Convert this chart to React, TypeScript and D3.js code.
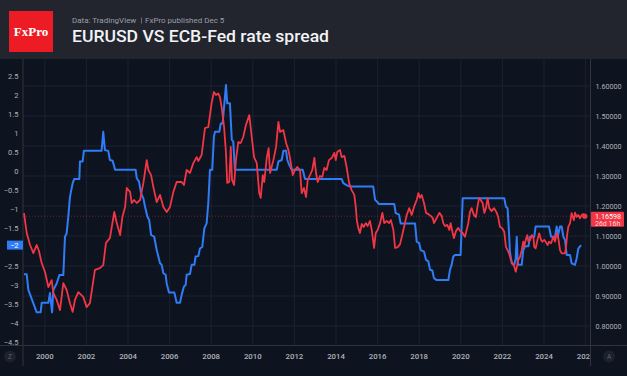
import React from "react";
import * as d3 from "d3";

const W = 627;
const H = 376;

// EURUSD (right axis) : [decimal year, price]
const eurusd: [number, number][] = [
  [1999.0, 1.176], [1999.13, 1.11], [1999.29, 1.07], [1999.45, 1.043], [1999.61, 1.07], [1999.72, 1.05],
  [1999.85, 1.01], [2000.01, 0.98], [2000.17, 0.93], [2000.33, 0.953], [2000.41, 0.91], [2000.57, 0.887],
  [2000.73, 0.853], [2000.89, 0.943], [2001.05, 0.92], [2001.21, 0.876], [2001.34, 0.847], [2001.45, 0.887],
  [2001.61, 0.913], [2001.85, 0.897], [2002.01, 0.863], [2002.17, 0.876], [2002.41, 0.987], [2002.65, 0.993],
  [2002.81, 1.003], [2002.94, 1.077], [2003.13, 1.093], [2003.34, 1.18], [2003.46, 1.143], [2003.62, 1.103],
  [2003.73, 1.163], [2003.86, 1.197], [2003.94, 1.26], [2004.1, 1.247], [2004.18, 1.21], [2004.29, 1.22],
  [2004.42, 1.21], [2004.58, 1.22], [2004.74, 1.277], [2004.9, 1.353], [2004.98, 1.32], [2005.11, 1.303],
  [2005.22, 1.263], [2005.38, 1.213], [2005.54, 1.237], [2005.7, 1.197], [2005.86, 1.18], [2006.02, 1.197],
  [2006.18, 1.247], [2006.34, 1.28], [2006.58, 1.28], [2006.69, 1.27], [2006.82, 1.32], [2006.98, 1.31],
  [2007.14, 1.343], [2007.3, 1.363], [2007.38, 1.35], [2007.54, 1.37], [2007.7, 1.46], [2007.86, 1.463],
  [2008.02, 1.543], [2008.13, 1.58], [2008.23, 1.57], [2008.34, 1.575], [2008.42, 1.563], [2008.5, 1.53],
  [2008.62, 1.463], [2008.71, 1.377], [2008.77, 1.277], [2008.87, 1.28], [2008.94, 1.397], [2009.0, 1.287],
  [2009.1, 1.27], [2009.19, 1.353], [2009.3, 1.413], [2009.42, 1.41], [2009.54, 1.43], [2009.67, 1.47],
  [2009.83, 1.503], [2009.95, 1.43], [2010.06, 1.363], [2010.19, 1.343], [2010.31, 1.243], [2010.38, 1.227],
  [2010.48, 1.303], [2010.55, 1.28], [2010.67, 1.36], [2010.76, 1.393], [2010.83, 1.31], [2010.99, 1.353],
  [2011.12, 1.397], [2011.23, 1.48], [2011.31, 1.447], [2011.47, 1.453], [2011.6, 1.41], [2011.71, 1.387],
  [2011.79, 1.36], [2011.92, 1.303], [2012.03, 1.32], [2012.14, 1.33], [2012.27, 1.32], [2012.35, 1.243],
  [2012.46, 1.26], [2012.56, 1.23], [2012.64, 1.287], [2012.75, 1.303], [2012.86, 1.32], [2012.96, 1.36],
  [2013.04, 1.31], [2013.12, 1.28], [2013.23, 1.3], [2013.34, 1.297], [2013.44, 1.327], [2013.55, 1.32],
  [2013.66, 1.353], [2013.79, 1.36], [2013.92, 1.377], [2013.99, 1.353], [2014.06, 1.38], [2014.19, 1.387],
  [2014.27, 1.363], [2014.4, 1.367], [2014.51, 1.33], [2014.63, 1.277], [2014.75, 1.253], [2014.88, 1.237],
  [2014.95, 1.197], [2015.0, 1.153], [2015.07, 1.127], [2015.15, 1.11], [2015.24, 1.14], [2015.33, 1.13],
  [2015.43, 1.143], [2015.52, 1.133], [2015.63, 1.15], [2015.72, 1.12], [2015.83, 1.06], [2015.91, 1.11],
  [2016.0, 1.12], [2016.12, 1.143], [2016.23, 1.177], [2016.32, 1.143], [2016.44, 1.15], [2016.55, 1.143],
  [2016.64, 1.153], [2016.76, 1.12], [2016.84, 1.06], [2016.97, 1.063], [2017.08, 1.073], [2017.24, 1.12],
  [2017.4, 1.17], [2017.52, 1.193], [2017.64, 1.17], [2017.75, 1.197], [2017.88, 1.22], [2017.96, 1.243],
  [2018.04, 1.227], [2018.12, 1.237], [2018.23, 1.21], [2018.33, 1.177], [2018.44, 1.173], [2018.55, 1.167],
  [2018.65, 1.16], [2018.71, 1.143], [2018.84, 1.16], [2018.97, 1.177], [2019.08, 1.167], [2019.16, 1.143],
  [2019.24, 1.133], [2019.35, 1.137], [2019.45, 1.12], [2019.51, 1.143], [2019.61, 1.11], [2019.67, 1.093],
  [2019.77, 1.117], [2019.88, 1.127], [2019.96, 1.117], [2020.09, 1.11], [2020.2, 1.097], [2020.28, 1.12],
  [2020.36, 1.143], [2020.44, 1.18], [2020.52, 1.193], [2020.63, 1.17], [2020.73, 1.163], [2020.79, 1.193],
  [2020.88, 1.227], [2020.96, 1.22], [2021.05, 1.21], [2021.13, 1.177], [2021.21, 1.193], [2021.29, 1.227],
  [2021.37, 1.193], [2021.48, 1.183], [2021.6, 1.193], [2021.73, 1.177], [2021.8, 1.163], [2021.88, 1.131],
  [2021.99, 1.126], [2022.09, 1.114], [2022.17, 1.064], [2022.25, 1.053], [2022.32, 1.042], [2022.41, 1.02],
  [2022.48, 1.009], [2022.57, 0.998], [2022.64, 0.981], [2022.7, 0.998], [2022.76, 1.02], [2022.85, 1.031],
  [2022.93, 1.053], [2023.0, 1.081], [2023.05, 1.064], [2023.12, 1.087], [2023.2, 1.103], [2023.25, 1.081],
  [2023.33, 1.087], [2023.41, 1.103], [2023.49, 1.098], [2023.53, 1.064], [2023.6, 1.059], [2023.7, 1.092],
  [2023.77, 1.109], [2023.86, 1.087], [2023.92, 1.081], [2024.01, 1.087], [2024.08, 1.081], [2024.18, 1.07],
  [2024.24, 1.081], [2024.34, 1.076], [2024.45, 1.098], [2024.53, 1.081], [2024.61, 1.109], [2024.69, 1.092],
  [2024.77, 1.053], [2024.85, 1.042], [2025.01, 1.042], [2025.06, 1.064], [2025.11, 1.103], [2025.17, 1.131],
  [2025.25, 1.142], [2025.33, 1.176], [2025.38, 1.164], [2025.44, 1.153], [2025.49, 1.178], [2025.57, 1.164],
  [2025.65, 1.17], [2025.73, 1.159], [2025.81, 1.17], [2025.89, 1.173], [2025.96, 1.16598],
];

// ECB-Fed rate spread (left axis) : [decimal year, percentage points]
const spread: [number, number][] = [
  [1999.0, -2.72], [1999.13, -2.72], [1999.21, -3.13], [1999.42, -3.44], [1999.61, -3.72], [1999.8, -3.72],
  [1999.85, -3.47], [2000.17, -3.47], [2000.25, -3.21], [2000.3, -3.47], [2000.35, -3.72], [2000.41, -3.13],
  [2000.57, -2.96], [2000.7, -2.74], [2000.89, -2.74], [2000.97, -1.73], [2001.05, -1.64], [2001.13, -1.2],
  [2001.21, -0.68], [2001.34, -0.32], [2001.42, -0.21], [2001.66, -0.21], [2001.69, 0.25], [2001.82, 0.25],
  [2001.88, 0.53], [2002.73, 0.53], [2002.81, 1.03], [2002.89, 0.55], [2003.05, 0.53], [2003.13, 0.29],
  [2003.26, 0.27], [2003.38, 0.03], [2004.37, 0.03], [2004.42, -0.19], [2004.53, -0.28], [2004.63, -0.59],
  [2004.74, -0.72], [2004.82, -0.94], [2004.93, -1.2], [2005.02, -1.29], [2005.11, -1.68], [2005.26, -1.73],
  [2005.38, -2.08], [2005.46, -2.25], [2005.54, -2.43], [2005.62, -2.47], [2005.7, -2.69], [2005.81, -2.73],
  [2005.86, -2.96], [2005.97, -3.2], [2006.23, -3.2], [2006.34, -3.47], [2006.5, -3.47], [2006.58, -3.26],
  [2006.69, -3.04], [2006.77, -3.0], [2006.82, -2.73], [2006.98, -2.71], [2007.06, -2.47], [2007.19, -2.47],
  [2007.25, -2.25], [2007.38, -2.24], [2007.46, -2.04], [2007.57, -2.0], [2007.67, -1.51], [2007.78, -1.38],
  [2007.86, -0.85], [2007.94, 0.03], [2008.05, 0.03], [2008.13, 0.9], [2008.18, 1.03], [2008.39, 1.03],
  [2008.46, 1.25], [2008.55, 1.25], [2008.71, 2.26], [2008.77, 1.78], [2008.9, 1.78], [2008.99, 0.82],
  [2009.06, 0.78], [2009.14, 0.03], [2011.15, 0.03], [2011.23, 0.25], [2011.39, 0.29], [2011.47, 0.53],
  [2011.6, 0.53], [2011.66, 0.29], [2011.75, 0.16], [2011.87, 0.03], [2012.4, 0.03], [2012.51, -0.21],
  [2014.27, -0.21], [2014.35, -0.32], [2014.51, -0.37], [2014.67, -0.41], [2015.79, -0.41], [2015.88, -0.76],
  [2015.96, -0.8], [2016.07, -0.87], [2016.8, -0.87], [2016.87, -1.11], [2017.03, -1.15], [2017.11, -1.38],
  [2017.8, -1.38], [2017.88, -1.86], [2018.0, -1.9], [2018.07, -2.08], [2018.23, -2.12], [2018.33, -2.34],
  [2018.44, -2.38], [2018.52, -2.6], [2018.63, -2.62], [2018.71, -2.82], [2018.84, -2.87], [2019.4, -2.87],
  [2019.48, -2.6], [2019.56, -2.47], [2019.64, -2.25], [2019.72, -2.21], [2019.99, -2.21], [2020.09, -0.72],
  [2022.09, -0.72], [2022.17, -0.94], [2022.25, -0.98], [2022.32, -1.64], [2022.36, -2.12], [2022.45, -2.43],
  [2022.57, -2.47], [2022.64, -2.3], [2022.69, -1.73], [2022.74, -2.47], [2022.93, -2.47], [2023.0, -2.08],
  [2023.09, -1.98], [2023.25, -1.98], [2023.33, -1.73], [2023.53, -1.73], [2023.6, -1.46], [2024.24, -1.46],
  [2024.34, -1.73], [2024.53, -1.73], [2024.61, -1.46], [2024.66, -1.73], [2024.77, -1.46], [2024.85, -1.46],
  [2024.93, -1.73], [2025.01, -1.82], [2025.09, -2.21], [2025.25, -2.21], [2025.33, -2.43], [2025.49, -2.47],
  [2025.57, -2.3], [2025.65, -2.04], [2025.78, -1.95],
];

const yearTicks = [2000, 2002, 2004, 2006, 2008, 2010, 2012, 2014, 2016, 2018, 2020, 2022, 2024, 2026];
const spreadTicks = [2.5, 2, 1.5, 1, 0.5, 0, -0.5, -1, -1.5, -2, -2.5, -3, -3.5, -4, -4.5];
const priceTicks = [1.6, 1.5, 1.4, 1.3, 1.2, 1.1, 1.0, 0.9, 0.8];

const lastPrice = "1.16598";
const lastPriceTimer = "26d 16h";
const lastSpreadLabel = "−2";

const title = "EURUSD VS ECB-Fed rate spread";
const subtitleLeft = "Data: TradingView";
const subtitleRight = "FxPro published Dec 5";

const FONT = "Roboto, 'Noto Sans', Arial, sans-serif";

export default function App() {
  const plotLeft = 23;
  const plotRight = 590;
  const plotTop = 59;
  const plotBottom = 345;

  const x = d3.scaleLinear().domain([2000, 2026]).range([44.8, 585.6]);
  const yL = d3.scaleLinear().domain([-4.5, 2.5]).range([342, 76]);
  const yR = d3.scaleLinear().domain([0.8, 1.6]).range([326, 86]);

  const redLine = d3.line<[number, number]>().x((d) => x(d[0])).y((d) => yR(d[1]));
  const blueLine = d3.line<[number, number]>().x((d) => x(d[0])).y((d) => yL(d[1]));

  const last = eurusd[eurusd.length - 1];
  const lastBlue = spread[spread.length - 1];
  const priceY = yR(last[1]);
  const blueY = yL(lastBlue[1]);

  const fmtSpread = (v: number) => (v < 0 ? "−" + String(Math.abs(v)) : String(v));
  // tick labels hidden behind the current-value badge (as in the reference)
  const visibleSpreadTicks = spreadTicks.filter((v) => Math.abs(yL(v) - blueY) > 7);
  const visiblePriceTicks = priceTicks.filter((p) => Math.abs(yR(p) - (priceY + 3)) > 11);

  return (
    <svg
      width={W}
      height={H}
      viewBox={`0 0 ${W} ${H}`}
      style={{ position: "absolute", left: 0, top: 0, display: "block" }}
    >
      <defs>
        <clipPath id="plotClip">
          <rect x={plotLeft} y={plotTop} width={plotRight - plotLeft} height={plotBottom - plotTop} />
        </clipPath>
        <clipPath id="xAxisClip">
          <rect x={plotLeft} y={plotBottom} width={plotRight - plotLeft} height={H - plotBottom} />
        </clipPath>
      </defs>
      {/* backgrounds */}
      <rect x={0} y={0} width={W} height={H} fill="#0e141f" />
      <rect x={0} y={0} width={W} height={plotTop} fill="#22252e" />

      {/* header */}
      <rect x={9} y={11} width={44} height={41} fill="#ed1c24" />
      <text
        x={31}
        y={35.5}
        textAnchor="middle"
        fill="#ffffff"
        fontFamily="'Liberation Serif', 'DejaVu Serif', serif"
        fontWeight={700}
        fontSize={13}
      >
        FxPro
      </text>
      <text x={72} y={23} fill="#9a9ea8" fontFamily={FONT} fontSize={8}>
        {subtitleLeft}
      </text>
      <rect x={141} y={17.5} width={0.8} height={6} fill="#7d818b" />
      <text x={145} y={23} fill="#9a9ea8" fontFamily={FONT} fontSize={8}>
        {subtitleRight}
      </text>
      <text
        x={72}
        y={42}
        fill="#f2f3f5"
        fontFamily={FONT}
        fontWeight={500}
        fontSize={17}
        textLength={257}
        lengthAdjust="spacingAndGlyphs"
      >
        {title}
      </text>

      {/* grid */}
      <g>
        {priceTicks.map((p) => (
          <line key={"h" + p} x1={plotLeft} x2={plotRight} y1={yR(p)} y2={yR(p)} stroke="#1b2130" strokeWidth={1} />
        ))}
        {yearTicks.map((yr) => (
          <line key={"v" + yr} x1={x(yr)} x2={x(yr)} y1={plotTop} y2={plotBottom} stroke="#1b2130" strokeWidth={1} />
        ))}
      </g>

      {/* axes lines */}
      <line x1={plotLeft} x2={plotLeft} y1={plotTop} y2={366} stroke="#2e333f" strokeWidth={1} />
      <line x1={plotRight + 0.5} x2={plotRight + 0.5} y1={plotTop} y2={366} stroke="#2e333f" strokeWidth={1} />
      <line x1={0} x2={W} y1={plotBottom + 0.5} y2={plotBottom + 0.5} stroke="#2e333f" strokeWidth={1} />

      {/* price line */}
      <line
        x1={plotLeft}
        x2={plotRight}
        y1={priceY}
        y2={priceY}
        stroke="#f23645"
        strokeOpacity={0.55}
        strokeWidth={0.8}
        strokeDasharray="1 2"
      />

      {/* series */}
      <g clipPath="url(#plotClip)">
        <path d={blueLine(spread) || ""} fill="none" stroke="#2f7cf6" strokeWidth={2} strokeLinejoin="round" />
        <path d={redLine(eurusd) || ""} fill="none" stroke="#f23645" strokeWidth={1.8} strokeLinejoin="round" />
        <circle cx={x(last[0])} cy={priceY} r={2.6} fill="#f23645" />
      </g>

      {/* left axis labels */}
      {visibleSpreadTicks.map((v) => (
        <text
          key={"l" + v}
          x={18.5}
          y={yL(v)}
          dy="0.35em"
          textAnchor="end"
          fill="#aeb2bc"
          fontFamily={FONT}
          fontSize={7.5}
        >
          {fmtSpread(v)}
        </text>
      ))}
      <rect x={7} y={blueY - 4.5} width={16} height={9} fill="#2f7cf6" />
      <text x={18.5} y={blueY} dy="0.35em" textAnchor="end" fill="#ffffff" fontFamily={FONT} fontSize={7.5}>
        {lastSpreadLabel}
      </text>

      {/* right axis labels */}
      {visiblePriceTicks.map((p) => (
        <text
          key={"r" + p}
          x={595.5}
          y={yR(p)}
          dy="0.35em"
          fill="#aeb2bc"
          fontFamily={FONT}
          fontSize={7.2}
        >
          {p.toFixed(5)}
        </text>
      ))}
      <rect x={591} y={priceY - 4.5} width={33} height={15} fill="#f23645" rx={1} />
      <text x={595} y={priceY} dy="0.35em" fill="#ffffff" fontFamily={FONT} fontSize={7.2}>
        {lastPrice}
      </text>
      <text x={595} y={priceY + 7.3} dy="0.35em" fill="#ffd9dc" fontFamily={FONT} fontSize={7}>
        {lastPriceTimer}
      </text>

      {/* x axis labels */}
      <g clipPath="url(#xAxisClip)">
        {yearTicks.map((yr) => (
          <text
            key={"x" + yr}
            x={x(yr)}
            y={356.5}
            dy="0.35em"
            textAnchor="middle"
            fill="#aeb2bc"
            fontFamily={FONT}
            fontWeight={500}
            fontSize={7.8}
          >
            {yr}
          </text>
        ))}
      </g>

      {/* corner buttons */}
      <circle cx={10} cy={356.5} r={6} fill="#1c212c" />
      <text x={10} y={356.5} dy="0.35em" textAnchor="middle" fill="#5d6270" fontFamily={FONT} fontSize={6.5}>
        Z
      </text>
      <circle cx={609} cy={356.5} r={6} fill="#1c212c" />
      <text x={609} y={356.5} dy="0.35em" textAnchor="middle" fill="#5d6270" fontFamily={FONT} fontSize={6.5}>
        A
      </text>
    </svg>
  );
}
